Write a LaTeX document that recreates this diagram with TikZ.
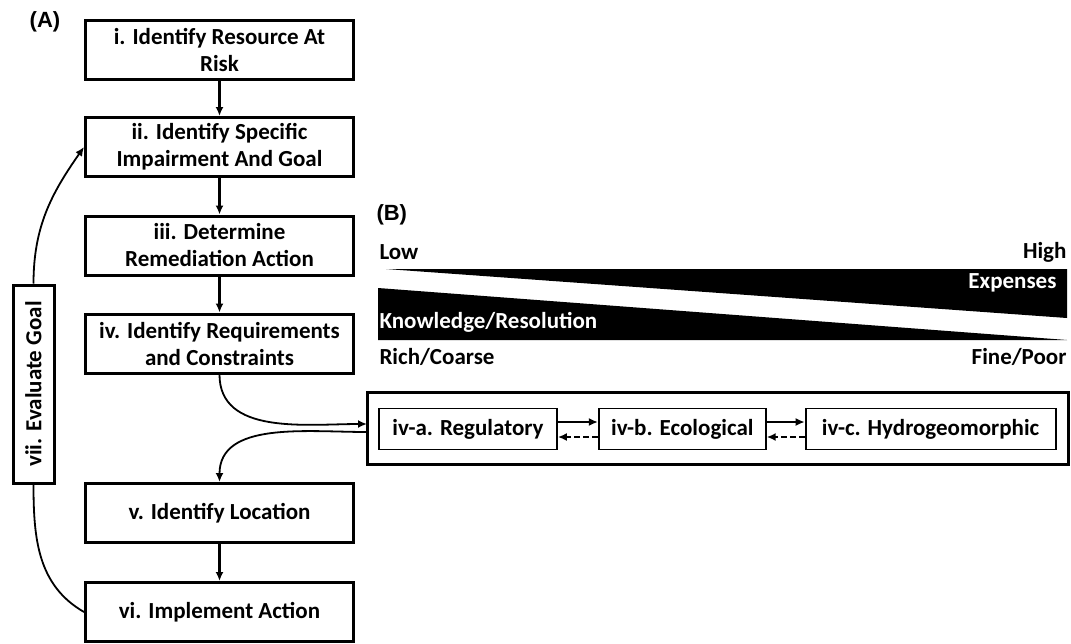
\documentclass[tikz,border=0pt]{standalone}
\usepackage{fontspec}
\setmainfont{Carlito}
\newfontfamily\labelfont{Liberation Sans}
\usetikzlibrary{arrows.meta,positioning}

\begin{document}
\begin{tikzpicture}[x=1pt,y=-1pt,font=\fontsize{23}{27}\selectfont\bfseries,
  stepbox/.style={draw,line width=3pt,align=center,minimum width=268pt,minimum height=59pt,inner sep=0pt},
  subbox/.style={draw,line width=1.8pt,minimum height=41pt,inner sep=1pt},
  flow/.style={line width=2.2pt,-{Latex[length=9pt,width=8pt]}},
  loop/.style={line width=1.8pt},
  tag/.style={font=\labelfont\fontsize{22}{26}\selectfont\bfseries}]
\useasboundingbox (0,0) rectangle (1071,643);
% (A) workflow
\node[tag] (tagA) at (45,22) {(A)};
\node[stepbox] (s1) at (219.5,49.5) {i. Identify Resource At\\Risk};
\node[stepbox] (s2) at (219.5,147) {ii. Identify Specific\\Impairment And Goal};
\node[stepbox] (s3) at (219.5,245.5) {iii. Determine\\Remediation Action};
\node[stepbox] (s4) at (219.5,343.5) {iv. Identify Requirements\\and Constraints};
\node[stepbox] (s5) at (219.5,513) {v. Identify Location};
\node[stepbox] (s6) at (219.5,612) {vi. Implement Action};
\node[stepbox,rotate=90,minimum width=198pt,minimum height=41pt] (s7) at (33.5,384) {vii. Evaluate Goal};
\draw[flow] (s1)--(s2); \draw[flow] (s2)--(s3);
\draw[flow] (s3)--(s4); \draw[flow] (s5)--(s6);
\draw[loop,-{Latex[length=9pt,width=8pt]}] (s7.east) to[out=90,in=235] (s2.west);
\draw[loop] (s7.west) to[out=-90,in=150] (s6.west);
% (B) gradient and sub-steps
\node[tag,anchor=west] (tagB) at (373,215) {(B)};
\fill (386,269) -- (1067,269) -- (1067,318) -- cycle;
\fill (378,288) -- (378,340) -- (1067,340) -- cycle;
\node[anchor=west] (low) at (376,252) {Low};
\node[anchor=east] (high) at (1070,252) {High};
\node[anchor=east,text=white] (cost) at (1060,283) {Expenses};
\node[anchor=west,text=white] (know) at (376,322) {Knowledge/Resolution};
\node[anchor=west] (rich) at (376,357) {Rich/Coarse};
\node[anchor=east] (fine) at (1070,357) {Fine/Poor};
\draw[line width=3pt] (367,392) rectangle (1068,464);
\coordinate (inA) at (367,424);
\coordinate (outA) at (367,432);
\node[subbox,minimum width=178pt] (ra) at (468,429) {iv-a. Regulatory};
\node[subbox,minimum width=167pt,right=40pt of ra] (rb) {iv-b. Ecological};
\node[subbox,minimum width=250pt,right=38pt of rb] (rc) {iv-c. Hydrogeomorphic};
\draw[flow] ([yshift=7pt]ra.east)--([yshift=7pt]rb.west);
\draw[flow,dash pattern=on 6pt off 3pt] ([yshift=-8pt]rb.west)--([yshift=-8pt]ra.east);
\draw[flow] ([yshift=7pt]rb.east)--([yshift=7pt]rc.west);
\draw[flow,dash pattern=on 6pt off 3pt] ([yshift=-8pt]rc.west)--([yshift=-8pt]rb.east);
\draw[loop,-{Latex[length=9pt,width=8pt]}] (s4.south) to[out=-90,in=180] (inA);
\draw[loop,-{Latex[length=9pt,width=8pt]}] (outA) to[out=180,in=90] (s5.north);
\end{tikzpicture}
\end{document}
